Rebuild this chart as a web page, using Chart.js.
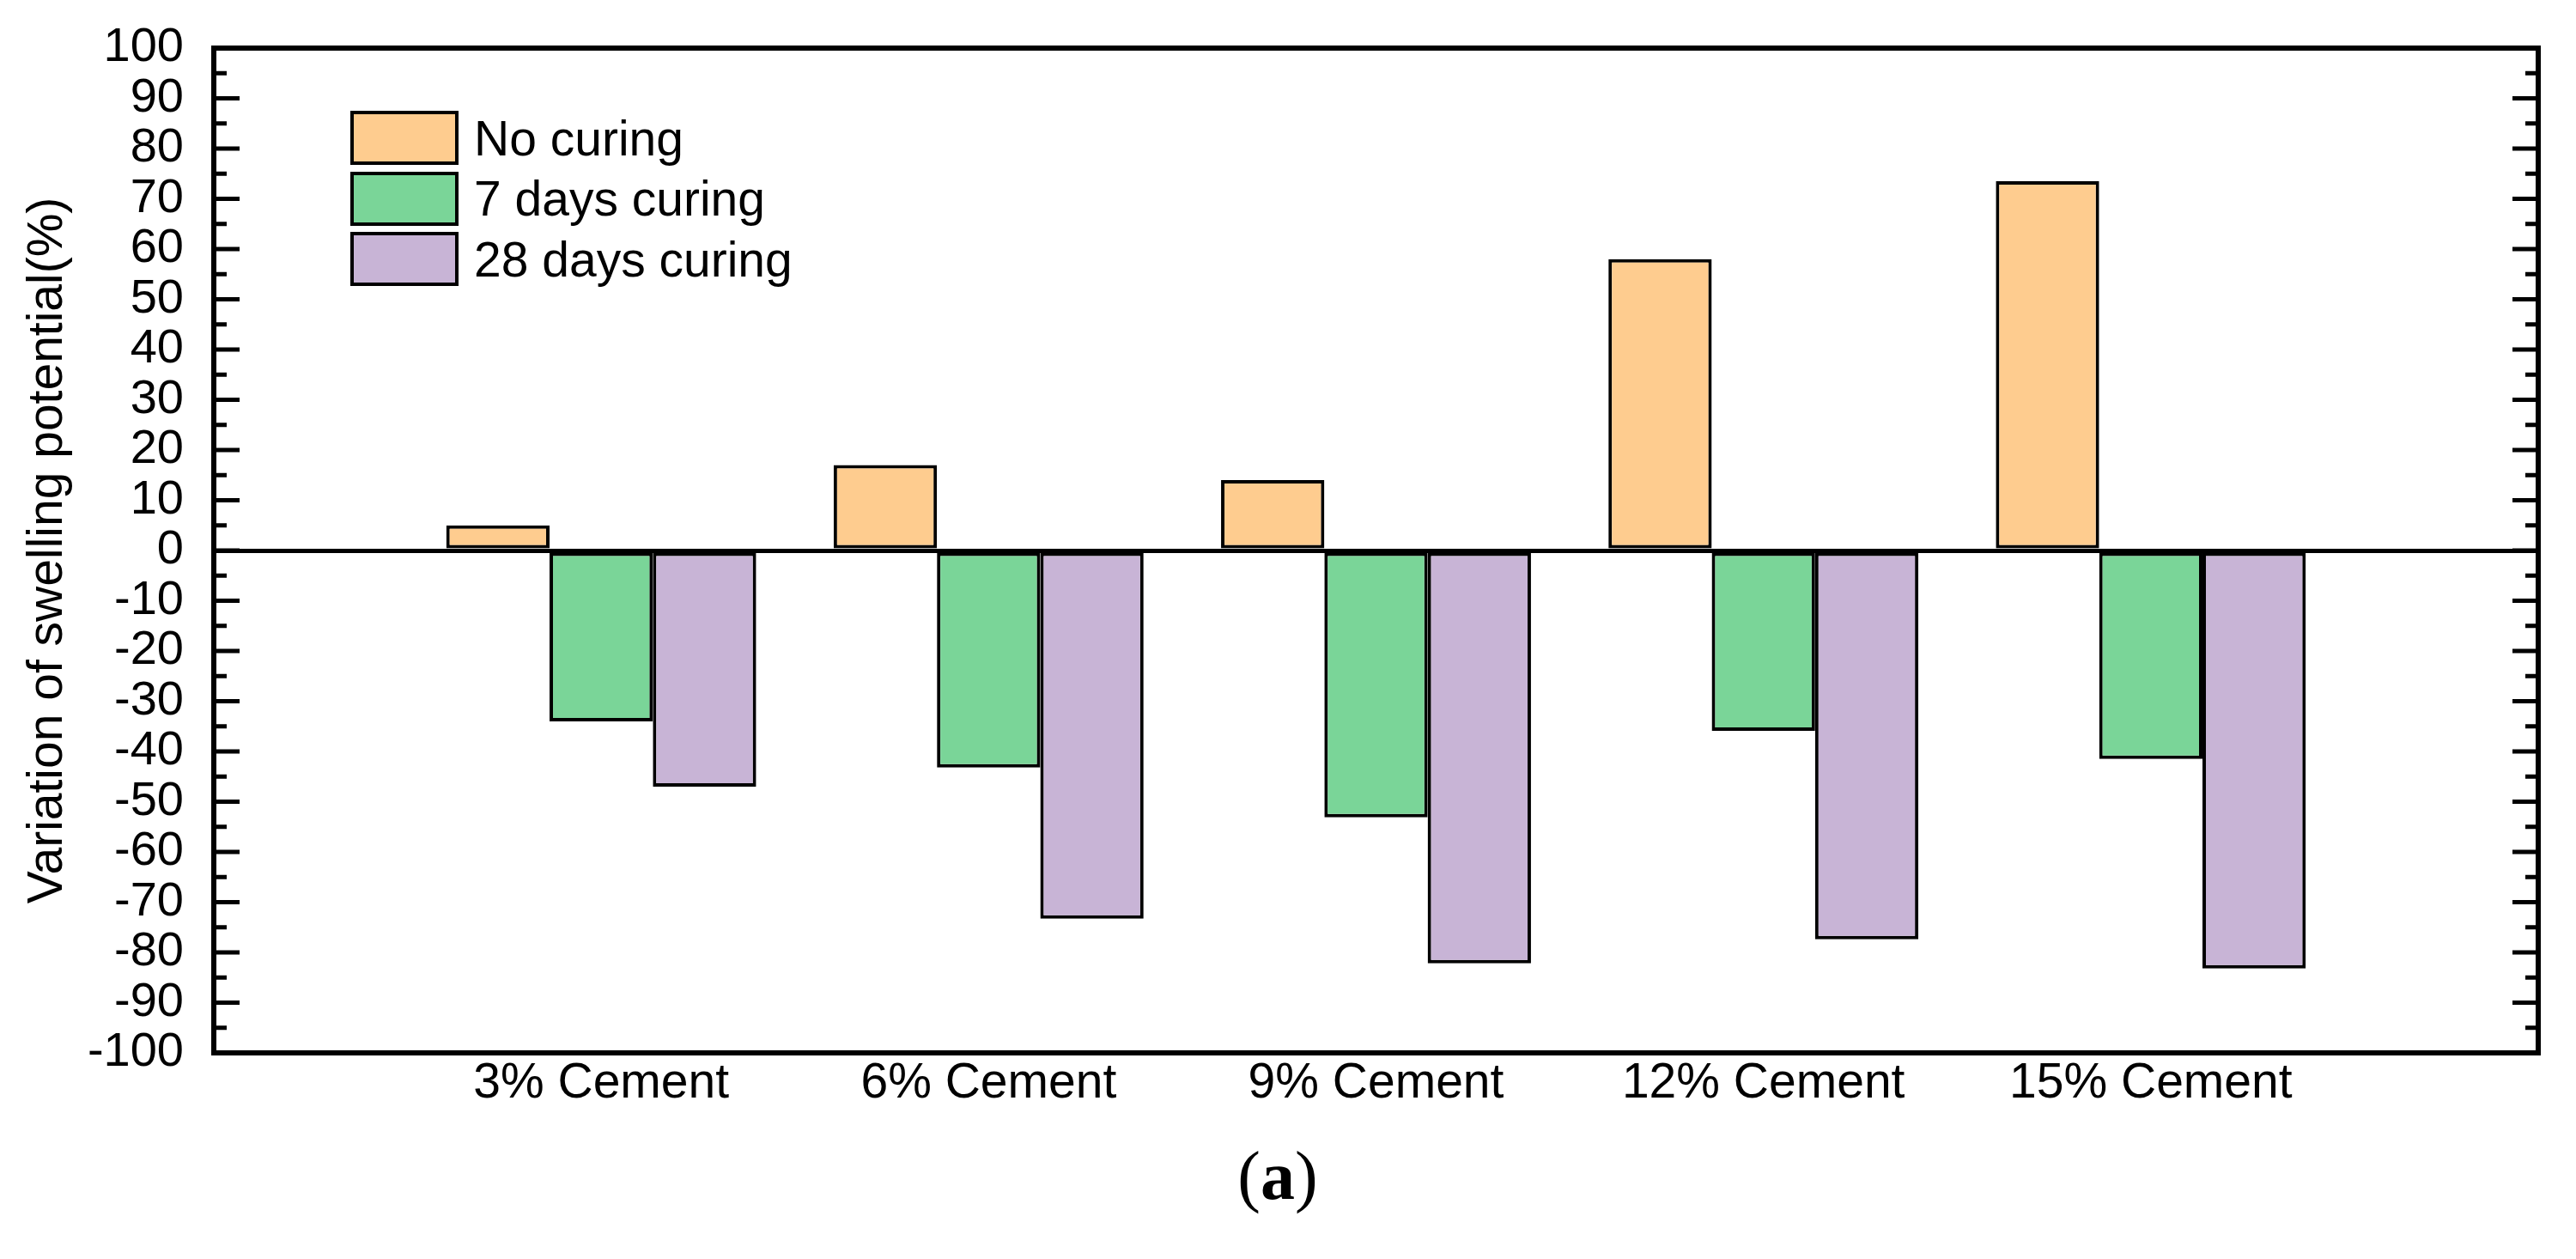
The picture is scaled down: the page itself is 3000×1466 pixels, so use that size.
<!DOCTYPE html>
<html>
<head>
<meta charset="utf-8">
<script src="https://cdn.jsdelivr.net/npm/chart.js@4.4.1/dist/chart.umd.min.js"></script>
<style>
    html, body { margin: 0; padding: 0; background: #fff; }
    #wrap { position: relative; width: 3000px; height: 1466px; }
    #chart { position: absolute; left: 0; top: 0; }
    #legend { position: absolute; left: 408px; top: 129px; font-family: 'Liberation Sans', Arial, sans-serif; font-size: 57px; color: #000; }
    .leg-item { display: flex; align-items: center; height: 63px; margin-bottom: 7.5px; }
    .leg-box { width: 118px; height: 55px; border: 4px solid #000; margin-right: 18px; }
    #caption { position: absolute; left: 1388px; width: 200px; top: 1329px; text-align: center; font-family: 'Liberation Serif', 'Times New Roman', serif; font-size: 80px; line-height: 1; color: #000; }
</style>
</head>
<body>
<div id="wrap">
    <canvas id="chart" width="3000" height="1466"></canvas>
    <div id="legend"></div>
    <div id="caption">(<b>a</b>)</div>
</div>
<script>
const categories = ['3% Cement', '6% Cement', '9% Cement', '12% Cement', '15% Cement'];
const seriesNames = ['No curing', '7 days curing', '28 days curing'];
const seriesColors = ['#FECC8F', '#7AD598', '#C8B4D6'];
const noCuring = [5, 17, 14, 58, 73.5];
const days7 = [-34, -43.2, -53.1, -35.9, -41.5];
const days28 = [-47, -73.3, -82.2, -77.4, -83.2];

// empty slots at both ends, like the original axis
const labels = [''].concat(categories, ['']);
const pad = arr => [null].concat(arr, [null]);

// Frame + inward ticks on left and right axes
const framePlugin = {
    id: 'frame',
    afterDatasetsDraw(chart) {
        const { ctx, chartArea: a, scales: { y } } = chart;
        ctx.save();
        ctx.strokeStyle = '#000';
        ctx.lineWidth = 5;
        for (let v = -95; v <= 95; v += 5) {
            const py = y.getPixelForValue(v);
            const len = v % 10 === 0 ? 30 : 15;
            ctx.beginPath();
            ctx.moveTo(a.left, py); ctx.lineTo(a.left + len, py);
            ctx.moveTo(a.right, py); ctx.lineTo(a.right - len, py);
            ctx.stroke();
        }
        ctx.lineWidth = 6;
        ctx.strokeRect(a.left, a.top, a.right - a.left, a.bottom - a.top);
        ctx.restore();
    }
};

const data = [noCuring, days7, days28];

new Chart(document.getElementById('chart').getContext('2d'), {
    type: 'bar',
    data: {
        labels: labels,
        datasets: data.map((d, i) => ({
            label: seriesNames[i],
            data: pad(d),
            backgroundColor: seriesColors[i],
            borderColor: '#000',
            borderWidth: 4,
            borderSkipped: false,
            categoryPercentage: 0.8,
            barPercentage: 1.0
        }))
    },
    options: {
        responsive: false,
        animation: false,
        devicePixelRatio: 1,
        layout: { padding: { top: 56, right: 44, left: 0, bottom: 0 } },
        plugins: {
            legend: { display: false },
            tooltip: { enabled: false }
        },
        scales: {
            x: {
                offset: false,
                grid: { display: false },
                border: { display: false },
                ticks: {
                    color: '#000',
                    padding: -6,
                    maxRotation: 0,
                    autoSkip: false,
                    font: { family: "'Liberation Sans', Arial, sans-serif", size: 57 }
                },
                afterFit: s => { s.height = 240; }
            },
            y: {
                min: -100,
                max: 100,
                border: { display: false },
                grid: {
                    drawTicks: false,
                    color: c => c.tick && c.tick.value === 0 ? '#000' : 'rgba(0,0,0,0)',
                    lineWidth: c => c.tick && c.tick.value === 0 ? 5 : 0
                },
                ticks: {
                    stepSize: 10,
                    autoSkip: false,
                    color: '#000',
                    padding: 35,
                    font: { family: "'Liberation Sans', Arial, sans-serif", size: 56 }
                },
                title: {
                    display: true,
                    text: 'Variation of swelling potential(%)',
                    color: '#000',
                    padding: { top: 22, bottom: 0 },
                    font: { family: "'Liberation Sans', Arial, sans-serif", size: 57 }
                },
                afterFit: s => {
                    s.width = 249;
                    // tick padding is horizontal only here
                    s.paddingTop = 34;
                    s.paddingBottom = 34;
                }
            }
        }
    },
    plugins: [framePlugin]
});

// HTML legend
document.getElementById('legend').innerHTML = seriesNames.map((n, i) =>
    `<div class="leg-item"><div class="leg-box" style="background:${seriesColors[i]}"></div><span>${n}</span></div>`
).join('');
</script>
</body>
</html>
